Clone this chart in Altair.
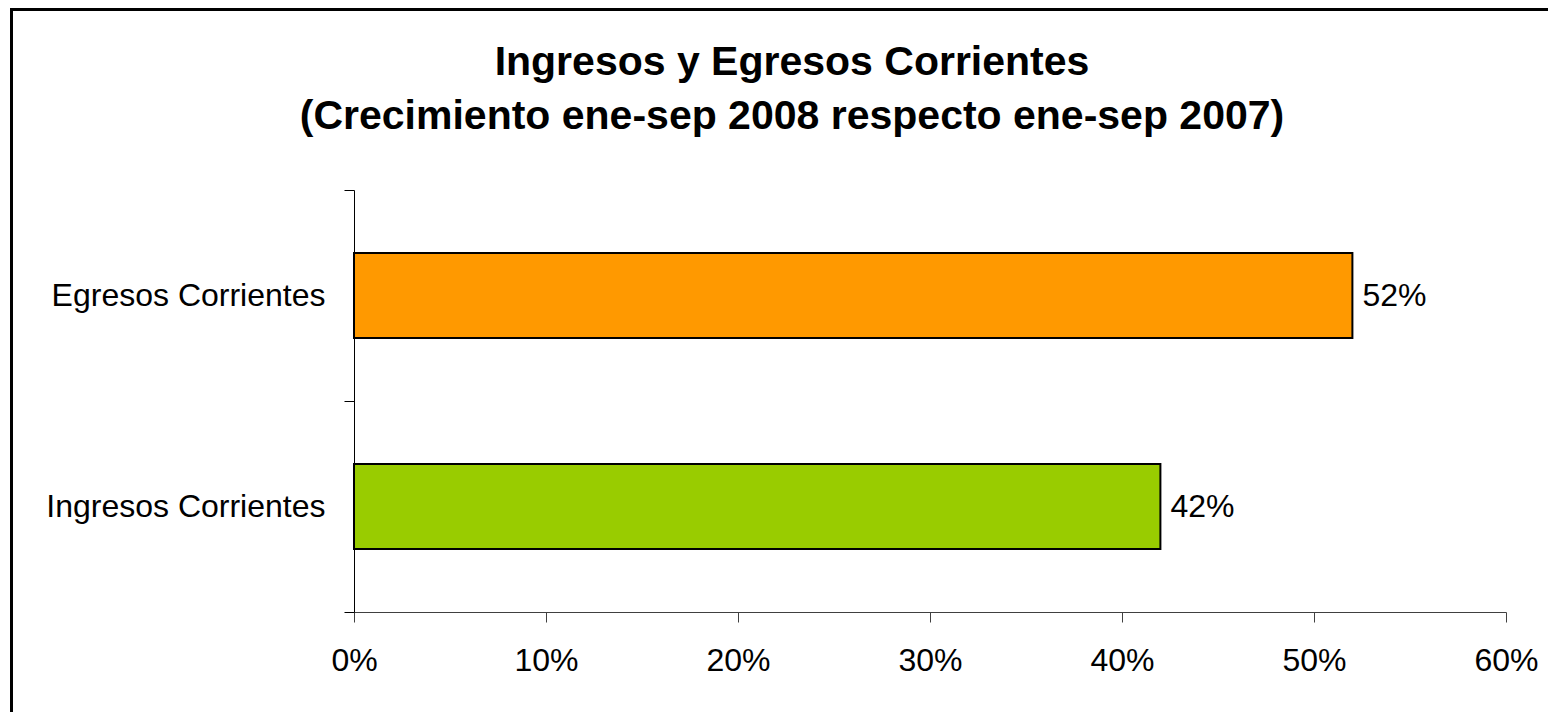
import altair as alt
import pandas as pd

categories = ["Egresos Corrientes", "Ingresos Corrientes"]
values = [0.52, 0.42]
colors = ["#FF9900", "#99CC00"]
x_ticks = [0, 0.1, 0.2, 0.3, 0.4, 0.5, 0.6]
title_lines = ["Ingresos y Egresos Corrientes",
               "(Crecimiento ene-sep 2008 respecto ene-sep 2007)"]

FONT = "Liberation Sans"

df = pd.DataFrame({"cat": categories, "val": values, "color": colors})

y_enc = alt.Y("cat:N", sort=categories,
              scale=alt.Scale(paddingInner=0, paddingOuter=0),
              axis=alt.Axis(title=None, tickBand="extent", tickSize=10,
                            tickColor="black", domainColor="black",
                            labelFontSize=32, labelFont=FONT, labelColor="black",
                            labelPadding=19, labelLimit=0))
x_enc = alt.X("val:Q", scale=alt.Scale(domain=[0, 0.6], nice=False),
              axis=alt.Axis(title=None, values=x_ticks, format=".0%",
                            tickSize=10, tickColor="#404040", domainColor="#404040",
                            labelFontSize=32, labelFont=FONT, labelColor="black",
                            labelPadding=23, grid=False, labelFlush=False))

bars = alt.Chart(df).mark_bar(size=85, stroke="black", strokeWidth=2).encode(
    x=x_enc, y=y_enc,
    color=alt.Color("color:N", scale=None),
)

labels = alt.Chart(df).mark_text(align="left", baseline="middle", dx=10,
                                  fontSize=32, font=FONT, color="black").encode(
    x="val:Q", y=alt.Y("cat:N", sort=categories),
    text=alt.Text("val:Q", format=".0%"),
)

border = alt.Chart(pd.DataFrame({"a": [0]})).mark_rect(
    fill=None, fillOpacity=0, stroke="black", strokeWidth=3, clip=False
).encode(
    x=alt.value(-342.5), x2=alt.value(1300),
    y=alt.value(-180.5), y2=alt.value(700),
)

chart = alt.layer(border, bars, labels).properties(
    width=1152, height=422,
    autosize=alt.AutoSizeParams(type="none"),
    padding={"left": 346, "top": 182, "right": 42, "bottom": 100},
    title=alt.TitleParams(text=title_lines, fontSize=41, font=FONT, fontWeight="bold",
                          color="black", anchor="middle", frame="group", dx=-138,
                          offset=-130, lineHeight=54),
).configure_view(stroke=None)

chart.save("out.html", embed_options={"renderer": "svg", "actions": False})
